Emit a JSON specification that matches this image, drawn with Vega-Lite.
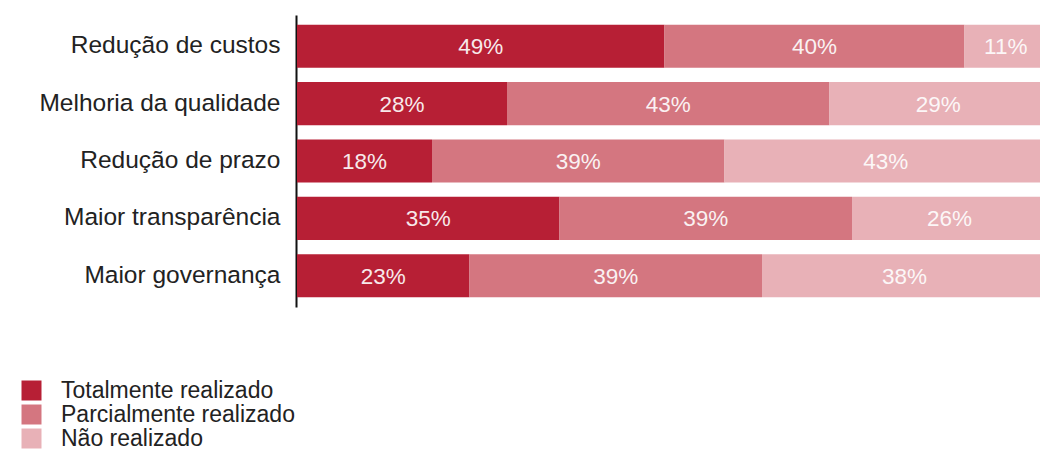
{
  "$schema": "https://vega.github.io/schema/vega-lite/v6.json",
  "width": 743,
  "height": 292,
  "autosize": {"type": "none"},
  "padding": {"left": 297, "top": 15, "right": 0, "bottom": 167},
  "background": "white",
  "config": {"view": {"stroke": null}, "font": "Liberation Sans"},
  "data": {
    "values": [
      {"cat": "Redução de custos", "serie": "Totalmente realizado", "ord": 1, "value": 49, "label": "49%"},
      {"cat": "Redução de custos", "serie": "Parcialmente realizado", "ord": 2, "value": 40, "label": "40%"},
      {"cat": "Redução de custos", "serie": "Não realizado", "ord": 3, "value": 11, "label": "11%"},
      {"cat": "Melhoria da qualidade", "serie": "Totalmente realizado", "ord": 1, "value": 28, "label": "28%"},
      {"cat": "Melhoria da qualidade", "serie": "Parcialmente realizado", "ord": 2, "value": 43, "label": "43%"},
      {"cat": "Melhoria da qualidade", "serie": "Não realizado", "ord": 3, "value": 29, "label": "29%"},
      {"cat": "Redução de prazo", "serie": "Totalmente realizado", "ord": 1, "value": 18, "label": "18%"},
      {"cat": "Redução de prazo", "serie": "Parcialmente realizado", "ord": 2, "value": 39, "label": "39%"},
      {"cat": "Redução de prazo", "serie": "Não realizado", "ord": 3, "value": 43, "label": "43%"},
      {"cat": "Maior transparência", "serie": "Totalmente realizado", "ord": 1, "value": 35, "label": "35%"},
      {"cat": "Maior transparência", "serie": "Parcialmente realizado", "ord": 2, "value": 39, "label": "39%"},
      {"cat": "Maior transparência", "serie": "Não realizado", "ord": 3, "value": 26, "label": "26%"},
      {"cat": "Maior governança", "serie": "Totalmente realizado", "ord": 1, "value": 23, "label": "23%"},
      {"cat": "Maior governança", "serie": "Parcialmente realizado", "ord": 2, "value": 39, "label": "39%"},
      {"cat": "Maior governança", "serie": "Não realizado", "ord": 3, "value": 38, "label": "38%"}
    ]
  },
  "transform": [
    {"stack": "value", "groupby": ["cat"], "sort": [{"field": "ord", "order": "ascending"}], "as": ["v0", "v1"]}
  ],
  "encoding": {
    "y": {
      "field": "cat",
      "type": "nominal",
      "sort": null,
      "title": null,
      "scale": {"paddingInner": 0.25, "paddingOuter": 0.17},
      "axis": {
        "domain": true,
        "domainColor": "#111111",
        "domainWidth": 2,
        "ticks": false,
        "offset": 1,
        "labelFontSize": 24.5,
        "labelColor": "#222222",
        "labelPadding": 16,
        "labelLimit": 400,
        "labelFont": "Liberation Sans",
        "grid": false
      }
    }
  },
  "layer": [
    {
      "mark": {"type": "bar", "clip": true},
      "encoding": {
        "x": {"field": "v0", "type": "quantitative", "scale": {"domain": [0, 100], "range": [0, 750], "nice": false}, "axis": null},
        "x2": {"field": "v1"},
        "color": {
          "field": "serie",
          "type": "nominal",
          "scale": {
            "domain": ["Totalmente realizado", "Parcialmente realizado", "Não realizado"],
            "range": ["#B71F35", "#D47680", "#E8B1B7"]
          },
          "legend": {
            "orient": "none",
            "legendX": -277,
            "legendY": 364,
            "title": null,
            "padding": 0,
            "symbolType": "square",
            "symbolSize": 400,
            "symbolStrokeWidth": 0,
            "symbolOpacity": 1,
            "labelFontSize": 23,
            "labelFont": "Liberation Sans",
            "labelColor": "#222222",
            "labelOffset": 18,
            "labelLimit": 400,
            "rowPadding": 0
          }
        }
      }
    },
    {
      "transform": [
        {"fold": ["v0", "v1"], "as": ["edge", "pos"]},
        {"aggregate": [{"op": "mean", "field": "pos", "as": "mid"}], "groupby": ["cat", "serie", "label"]}
      ],
      "mark": {"type": "text", "fill": "white", "opacity": 0.9, "fontSize": 22.5, "baseline": "middle", "align": "center", "dy": 1, "clip": true},
      "encoding": {
        "x": {"field": "mid", "type": "quantitative"},
        "text": {"field": "label"}
      }
    }
  ]
}
